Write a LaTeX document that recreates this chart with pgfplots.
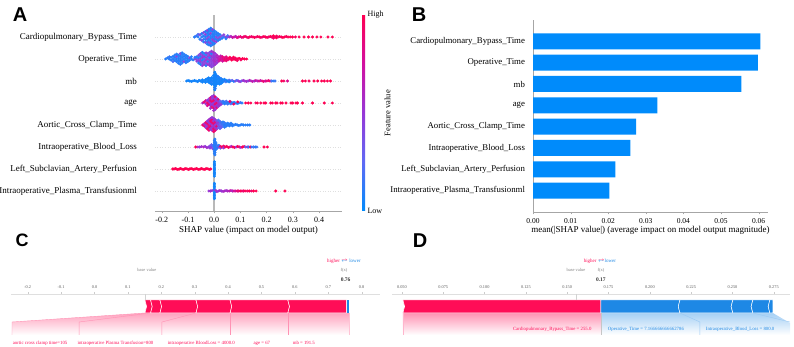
\documentclass[border=0pt]{standalone}
\usepackage{fontspec}
\setmainfont{Liberation Serif}
\newfontfamily\panelfont{Liberation Sans}
\usepackage{pgfplots}
\usepackage{pgfplotstable}
\pgfplotsset{compat=1.18}
\definecolor{shapred}{RGB}{255,13,87}
\definecolor{shapblue}{RGB}{30,136,229}
\definecolor{barblue}{RGB}{0,139,251}

% ---------- beeswarm data: x = SHAP value, d = vertical offset in the row, c = feature value (0 low, 1 high)
\pgfplotstableread[row sep=\\]{x d c\\
-0.075 0 .1\\ -0.068 .05 .15\\ -0.061 0 .1\\ -0.061 .12 .2\\ -0.054 -.1 .1\\ -0.054 .1 .4\\ -0.047 0 .1\\ -0.047 .15 .1\\ -0.047 -.15 .4\\
-0.040 .05 .1\\ -0.040 -.1 .15\\ -0.040 .2 .4\\ -0.040 -.22 .1\\ -0.033 0 .1\\ -0.033 .12 .45\\ -0.033 -.12 .1\\ -0.033 .25 .1\\ -0.033 -.25 .4\\
-0.026 .05 .1\\ -0.026 -.07 .4\\ -0.026 .18 .1\\ -0.026 -.2 .1\\ -0.026 .3 .45\\ -0.026 -.32 .1\\ -0.020 0 .4\\ -0.020 .12 .1\\ -0.020 -.12 .1\\
-0.020 .24 .1\\ -0.020 -.24 .4\\ -0.020 .35 .1\\ -0.020 -.36 .1\\ -0.013 .05 .1\\ -0.013 -.06 .1\\ -0.013 .17 .45\\ -0.013 -.18 .1\\ -0.013 .29 .1\\
-0.013 -.3 .4\\ -0.013 .4 .1\\ -0.013 -.4 .1\\ -0.006 0 .1\\ -0.006 .12 .1\\ -0.006 -.12 .45\\ -0.006 .24 .1\\ -0.006 -.24 .1\\ -0.006 .34 .4\\
-0.006 -.35 .1\\ 0.001 .05 .1\\ 0.001 -.07 .1\\ 0.001 .17 .1\\ 0.001 -.19 .45\\ 0.001 .28 .1\\ 0.001 -.3 .1\\ 0.008 0 .4\\ 0.008 .12 .1\\
0.008 -.12 .1\\ 0.008 .22 .1\\ 0.008 -.22 .45\\ 0.015 .06 .1\\ 0.015 -.06 .4\\ 0.015 .16 .1\\ 0.015 -.16 .1\\ 0.022 0 .45\\ 0.022 .11 .1\\
0.022 -.11 .1\\ 0.030 .05 .4\\ 0.030 -.06 .1\\ 0.037 0 .1\\ 0.037 .1 .45\\ 0.045 0 .5\\ 0.045 -.08 .1\\ 0.052 0 .4\\ 0.052 .06 .2\\
0.058 0 .55\\ 0.064 .03 .6\\ 0.07 -.02 .7\\ 0.076 0 .75\\ 0.082 .03 .65\\ 0.088 -.03 .85\\ 0.094 0 .8\\ 0.1 .02 .9\\ 0.106 -.02 .85\\
0.112 0 .95\\ 0.118 .03 .9\\ 0.124 0 .95\\ 0.13 -.03 .9\\ 0.136 0 1\\ 0.142 .02 .9\\ 0.148 0 .95\\ 0.154 -.02 1\\ 0.16 0 .9\\ 0.166 .02 .95\\
0.172 0 1\\ 0.178 -.02 .95\\ 0.184 0 .9\\ 0.19 .02 1\\ 0.196 0 .95\\ 0.202 -.02 1\\ 0.208 0 .9\\ 0.214 .02 1\\ 0.22 0 .95\\ 0.226 .05 1\\
0.226 -.05 .9\\ 0.232 0 1\\ 0.238 .04 .95\\ 0.238 -.04 1\\ 0.244 0 .9\\ 0.25 .02 1\\ 0.256 0 .95\\ 0.262 -.02 1\\ 0.268 0 1\\ 0.275 .02 .95\\
0.282 0 1\\ 0.29 0 1\\ 0.299 0 1\\ 0.31 0 .95\\ 0.324 0 1\\ 0.343 0 1\\ 0.36 0 1\\ 0.375 0 1\\ 0.392 0 1\\ 0.407 0 1\\ 0.434 0 1\\ 0.451 0 1\\
}\tcardio

\pgfplotstableread[row sep=\\]{x d c\\
-0.185 0 .1\\ -0.178 .05 .1\\ -0.171 0 .1\\ -0.171 .1 .15\\ -0.164 -.05 .1\\ -0.164 .08 .1\\ -0.157 0 .1\\ -0.157 .12 .1\\ -0.157 -.12 .2\\
-0.150 .06 .1\\ -0.150 -.06 .1\\ -0.150 .18 .1\\ -0.143 0 .1\\ -0.143 .12 .4\\ -0.143 -.12 .1\\ -0.143 .22 .1\\ -0.136 .05 .1\\ -0.136 -.07 .1\\
-0.136 .17 .1\\ -0.136 -.19 .1\\ -0.129 0 .1\\ -0.129 .12 .1\\ -0.129 -.12 .1\\ -0.129 .24 .4\\ -0.129 -.24 .1\\ -0.122 .06 .1\\ -0.122 -.06 .1\\
-0.122 .18 .1\\ -0.122 -.18 .1\\ -0.122 .28 .1\\ -0.115 0 .1\\ -0.115 .12 .1\\ -0.115 -.12 .45\\ -0.115 .22 .1\\ -0.108 .05 .1\\ -0.108 -.07 .1\\
-0.108 .17 .1\\ -0.108 -.17 .1\\ -0.101 0 .1\\ -0.101 .12 .1\\ -0.101 -.12 .1\\ -0.094 .05 .4\\ -0.094 -.06 .1\\ -0.087 0 .1\\ -0.087 .1 .1\\
-0.080 -.04 .1\\ -0.073 0 .45\\ -0.073 .08 .1\\
-0.066 0 .4\\ -0.066 .1 .1\\ -0.066 -.1 .45\\ -0.059 .05 .1\\ -0.059 -.07 .45\\ -0.059 .17 .4\\ -0.059 -.18 .1\\ -0.052 0 .45\\ -0.052 .12 .1\\
-0.052 -.12 .5\\ -0.052 .24 .45\\ -0.052 -.24 .1\\ -0.045 .06 .5\\ -0.045 -.06 .1\\ -0.045 .18 .45\\ -0.045 -.18 .4\\ -0.045 .3 .1\\ -0.045 -.3 .45\\
-0.038 0 .1\\ -0.038 .12 .5\\ -0.038 -.12 .45\\ -0.038 .24 .1\\ -0.038 -.24 .5\\ -0.031 .06 .45\\ -0.031 -.06 .5\\ -0.031 .18 .1\\ -0.031 -.18 .45\\
-0.031 .28 .5\\ -0.031 -.3 .1\\ -0.024 0 .5\\ -0.024 .12 .45\\ -0.024 -.12 .1\\ -0.024 .24 .45\\ -0.024 -.24 .5\\ -0.017 .06 .1\\ -0.017 -.06 .45\\
-0.017 .18 .5\\ -0.017 -.18 .45\\ -0.017 .3 .4\\ -0.017 -.3 .5\\ -0.010 0 .45\\ -0.010 .12 .5\\ -0.010 -.12 .45\\ -0.010 .24 .1\\ -0.010 -.24 .45\\
-0.010 .35 .5\\ -0.010 -.36 .45\\ -0.003 .06 .5\\ -0.003 -.06 .55\\ -0.003 .18 .45\\ -0.003 -.18 .5\\ -0.003 .3 .55\\ -0.003 -.3 .45\\ 0.004 0 .55\\
0.004 .12 .5\\ 0.004 -.12 .6\\ 0.004 .24 .5\\ 0.004 -.24 .55\\ 0.011 .06 .6\\ 0.011 -.06 .55\\ 0.011 .17 .6\\ 0.011 -.17 .5\\
0.018 0 .7\\ 0.018 .1 .65\\ 0.018 -.1 .7\\ 0.025 .05 .75\\ 0.025 -.05 .8\\ 0.025 .14 .7\\ 0.032 0 .8\\ 0.032 .1 .85\\ 0.032 -.1 .75\\ 0.039 .05 .85\\
0.039 -.05 .9\\ 0.046 0 .9\\ 0.046 .1 .85\\ 0.046 -.08 .9\\ 0.053 .04 .95\\ 0.053 -.04 .9\\ 0.06 0 .95\\ 0.06 .08 1\\ 0.067 .03 .9\\ 0.067 -.05 1\\
0.074 0 .95\\ 0.074 .08 1\\ 0.081 -.03 1\\ 0.081 .04 .95\\ 0.088 0 1\\ 0.088 -.07 .95\\ 0.095 .03 1\\ 0.102 0 1\\ 0.102 -.04 .95\\ 0.109 .02 1\\
0.116 0 1\\ 0.124 0 1\\
}\toper

\pgfplotstableread[row sep=\\]{x d c\\
-0.105 0 .05\\ -0.099 .02 .05\\ -0.093 0 .05\\ -0.087 -.02 .05\\ -0.081 0 .05\\ -0.075 .02 .05\\ -0.069 0 .05\\ -0.063 -.03 .05\\ -0.057 .03 .05\\
-0.051 0 .05\\ -0.045 .05 .05\\ -0.045 -.05 .05\\ -0.039 0 .05\\ -0.033 .06 .05\\ -0.033 -.06 .05\\ -0.027 0 .05\\ -0.027 .1 .05\\ -0.021 .05 .05\\
-0.021 -.05 .05\\ -0.021 .14 .05\\ -0.015 0 .05\\ -0.015 .1 .05\\ -0.015 -.1 .05\\ -0.009 .05 .05\\ -0.009 -.05 .1\\ -0.009 .15 .05\\ -0.009 -.15 .05\\
-0.003 0 .05\\ -0.003 .12 .05\\ -0.003 -.12 .05\\ -0.003 .24 .05\\
0.002 0 .05\\ 0.002 .1 .05\\ 0.002 -.1 .05\\ 0.002 .2 .05\\ 0.002 -.2 .05\\ 0.002 .3 .05\\ 0.002 -.3 .05\\ 0.002 .4 .05\\ 0.002 -.4 .05\\
0.004 .05 .05\\ 0.004 -.05 .05\\ 0.004 .15 .05\\ 0.004 -.15 .05\\ 0.004 .25 .05\\ 0.004 -.25 .05\\ 0.004 .35 .05\\ 0.004 -.35 .1\\
0.009 .05 .05\\ 0.009 -.05 .05\\ 0.009 .15 .05\\ 0.009 -.15 .05\\ 0.009 .25 .05\\ 0.015 0 .05\\ 0.015 .1 .05\\ 0.015 -.1 .05\\ 0.015 .2 .1\\
0.021 .05 .05\\ 0.021 -.05 .05\\ 0.021 .14 .05\\ 0.021 -.14 .05\\ 0.027 0 .05\\ 0.027 .1 .1\\ 0.027 -.1 .05\\ 0.033 .05 .05\\ 0.033 -.05 .05\\
0.039 0 .1\\ 0.039 .08 .05\\ 0.045 .04 .05\\ 0.045 -.04 .15\\ 0.051 0 .05\\ 0.057 .04 .2\\ 0.057 -.04 .05\\ 0.063 0 .1\\ 0.069 .03 .3\\
0.075 -.02 .1\\ 0.081 0 .4\\ 0.087 .03 .2\\ 0.093 0 .45\\ 0.099 -.03 .5\\ 0.105 0 .3\\ 0.111 .02 .55\\ 0.117 0 .5\\ 0.123 -.02 .6\\ 0.129 0 .45\\
0.135 .03 .65\\ 0.141 0 .6\\ 0.147 -.02 .7\\ 0.153 0 .55\\ 0.159 .02 .75\\ 0.165 0 .6\\ 0.171 0 .8\\ 0.177 .02 .7\\ 0.183 0 .85\\ 0.189 -.02 .9\\
0.195 0 .75\\ 0.201 0 .9\\ 0.207 .02 .85\\ 0.213 0 .95\\ 0.219 0 .2\\ 0.225 0 .1\\ 0.232 0 .15\\
0.258 0 1\\ 0.266 0 .95\\ 0.28 0 .8\\ 0.337 0 1\\ 0.348 0 1\\ 0.362 0 .95\\ 0.381 0 1\\ 0.395 0 1\\ 0.41 0 1\\ 0.42 0 1\\ 0.432 0 1\\ 0.444 0 1\\
}\tmb

\pgfplotstableread[row sep=\\]{x d c\\
-0.044 0 .6\\ -0.038 .04 .9\\ -0.032 -.04 .5\\ -0.032 .1 .8\\ -0.026 0 .9\\ -0.026 .12 .5\\ -0.026 -.12 .8\\ -0.02 .06 .6\\ -0.02 -.06 .9\\
-0.02 .18 .5\\ -0.014 0 .55\\ -0.014 .12 .9\\ -0.014 -.12 .5\\ -0.014 .24 .8\\ -0.014 -.24 .55\\ -0.008 .06 .9\\ -0.008 -.06 .5\\ -0.008 .18 .55\\
-0.008 -.18 .9\\ -0.008 .3 .5\\ -0.002 0 .5\\ -0.002 .12 .9\\ -0.002 -.12 .55\\ -0.002 .24 .5\\ -0.002 -.24 .85\\ -0.002 .34 .5\\ -0.002 -.34 .55\\
0.004 .06 .55\\ 0.004 -.06 .9\\ 0.004 .18 .5\\ 0.004 -.18 .55\\ 0.004 .28 .9\\ 0.004 -.3 .5\\ 0.010 0 .9\\ 0.010 .12 .5\\ 0.010 -.12 .55\\
0.010 .22 .5\\ 0.010 -.22 .85\\ 0.016 .06 .5\\ 0.016 -.06 .55\\ 0.016 .16 .9\\ 0.016 -.16 .5\\ 0.022 0 .5\\ 0.022 .1 .3\\ 0.022 -.1 .55\\
0.028 .05 .2\\ 0.028 -.05 .5\\
0.034 0 .1\\ 0.034 .08 .15\\ 0.040 .04 .1\\ 0.040 -.04 .1\\ 0.046 0 .1\\ 0.046 .08 .2\\ 0.052 .03 .1\\ 0.052 -.05 .15\\ 0.058 0 .1\\
0.064 .04 .1\\ 0.064 -.04 .2\\ 0.07 0 .1\\ 0.076 .03 .1\\ 0.082 0 .15\\ 0.088 -.02 .1\\ 0.094 0 .1\\ 0.1 .02 .2\\ 0.106 0 .1\\
0.06 .07 .9\\ 0.075 -.05 .95\\ 0.09 .05 1\\ 0.12 0 1\\ 0.13 0 1\\ 0.14 0 1\\ 0.159 0 .95\\ 0.165 0 1\\ 0.178 0 1\\ 0.19 0 1\\ 0.197 0 1\\
0.216 0 1\\ 0.222 0 1\\ 0.235 0 1\\ 0.24 0 1\\ 0.254 0 1\\ 0.26 0 1\\ 0.274 0 1\\ 0.293 0 1\\ 0.3 0 1\\ 0.312 0 1\\ 0.318 0 1\\ 0.337 0 1\\
0.375 0 1\\ 0.42 0 1\\ 0.451 0 1\\
}\tage

\pgfplotstableread[row sep=\\]{x d c\\
-0.044 0 .9\\ -0.038 .05 .6\\ -0.038 -.05 .9\\ -0.032 0 .55\\ -0.032 .12 .9\\ -0.032 -.12 .5\\ -0.026 .06 .9\\ -0.026 -.06 .55\\ -0.026 .18 .5\\
-0.026 -.18 .9\\ -0.02 0 .9\\ -0.02 .12 .5\\ -0.02 -.12 .85\\ -0.02 .24 .55\\ -0.02 -.24 .9\\ -0.014 .06 .5\\ -0.014 -.06 .9\\ -0.014 .18 .9\\
-0.014 -.18 .5\\ -0.014 .3 .55\\ -0.008 0 .55\\ -0.008 .12 .9\\ -0.008 -.12 .5\\ -0.008 .24 .9\\ -0.008 -.24 .55\\ -0.008 .34 .5\\ -0.002 .06 .9\\
-0.002 -.06 .55\\ -0.002 .18 .5\\ -0.002 -.18 .9\\ -0.002 .3 .5\\ -0.002 -.3 .9\\ 0.004 0 .5\\ 0.004 .12 .85\\ 0.004 -.12 .55\\ 0.004 .24 .5\\
0.004 -.24 .9\\ 0.010 .06 .5\\ 0.010 -.06 .9\\ 0.010 .18 .4\\ 0.010 -.18 .55\\ 0.016 0 .4\\ 0.016 .12 .5\\ 0.016 -.12 .3\\ 0.016 .22 .2\\
0.022 .06 .3\\ 0.022 -.06 .4\\ 0.022 .16 .2\\ 0.022 -.16 .3\\ 0.028 0 .2\\ 0.028 .1 .15\\ 0.028 -.1 .3\\ 0.034 .05 .15\\ 0.034 -.05 .2\\
0.034 .14 .1\\ 0.040 0 .1\\ 0.040 .1 .15\\ 0.040 -.1 .1\\ 0.046 .05 .1\\ 0.046 -.05 .1\\ 0.052 0 .1\\ 0.052 .08 .1\\ 0.058 .04 .1\\
0.058 -.04 .1\\ 0.064 0 .1\\ 0.064 .08 .1\\ 0.07 .03 .1\\ 0.07 -.04 .1\\ 0.076 0 .1\\ 0.082 .03 .1\\ 0.088 0 .1\\ 0.094 -.02 .1\\ 0.1 0 .1\\
0.106 .02 .1\\ 0.112 0 .1\\ 0.12 0 .1\\ 0.128 0 .1\\ 0.136 0 .1\\
}\taortic

\pgfplotstableread[row sep=\\]{x d c\\
-0.07 0 1\\ -0.062 0 .6\\ -0.055 0 .5\\ -0.048 .02 .55\\ -0.04 0 .6\\ -0.034 .03 .5\\ -0.028 -.03 .55\\ -0.022 0 .5\\ -0.016 .05 .4\\
-0.016 -.05 .5\\ -0.01 0 .45\\ -0.01 .1 .3\\ -0.005 .05 .2\\ -0.005 -.08 .4\\
0.001 0 .1\\ 0.001 .1 .1\\ 0.001 -.1 .1\\ 0.001 .2 .1\\ 0.001 -.2 .1\\ 0.001 .3 .1\\ 0.001 -.3 .1\\ 0.003 .05 .1\\ 0.003 -.05 .1\\ 0.003 .15 .1\\
0.003 -.15 .1\\ 0.003 .25 .1\\ 0.003 -.25 .1\\ 0.003 .36 .1\\ 0.003 -.36 .1\\ 0.007 0 .1\\ 0.007 .1 .1\\ 0.007 -.1 .1\\ 0.007 .18 .1\\
0.012 .05 .2\\ 0.012 -.05 .1\\ 0.018 0 .5\\ 0.018 .08 .1\\ 0.024 .03 .9\\ 0.024 -.05 .4\\ 0.03 0 1\\ 0.036 .04 .9\\ 0.036 -.04 .5\\ 0.042 0 1\\
0.048 .03 .95\\ 0.054 -.02 1\\ 0.06 0 .9\\ 0.066 .03 .6\\ 0.072 0 1\\ 0.078 -.02 .95\\ 0.084 0 .5\\ 0.09 .02 1\\ 0.096 0 .9\\ 0.102 -.02 .55\\
0.108 0 1\\ 0.114 .02 .95\\ 0.12 0 .2\\ 0.126 0 .5\\ 0.132 0 .1\\ 0.138 0 .95\\ 0.144 0 .1\\ 0.15 0 .2\\ 0.157 0 .1\\ 0.163 0 .15\\
0.19 0 1\\ 0.203 0 1\\
}\tblood

\pgfplotstableread[row sep=\\]{x d c\\
-0.158 0 1\\ -0.153 0 1\\ -0.148 .02 1\\ -0.143 0 1\\ -0.138 -.02 1\\ -0.133 0 1\\ -0.128 .02 1\\ -0.123 0 1\\ -0.118 -.02 1\\ -0.113 0 1\\
-0.108 .02 1\\ -0.103 0 1\\ -0.098 -.02 1\\ -0.093 0 1\\ -0.088 .02 1\\ -0.083 0 1\\ -0.078 -.02 1\\ -0.073 0 1\\ -0.068 .02 1\\ -0.063 0 1\\
-0.058 -.02 1\\ -0.053 0 1\\ -0.048 .02 1\\ -0.043 0 1\\ -0.038 -.02 1\\ -0.033 0 1\\ -0.028 .02 1\\ -0.023 0 1\\ -0.018 -.02 1\\ -0.013 0 1\\
0.001 -.33 .05\\ 0.001 -.27 .05\\ 0.001 -.21 .05\\ 0.001 -.15 .05\\ 0.001 -.09 .05\\ 0.001 -.03 .05\\ 0.001 .03 .05\\ 0.001 .09 .05\\
0.001 .15 .05\\ 0.001 .21 .05\\ 0.001 .27 .05\\ 0.001 .33 .05\\
}\tleft

\pgfplotstableread[row sep=\\]{x d c\\
0.001 -.35 .05\\ 0.001 -.28 .05\\ 0.001 -.21 .05\\ 0.001 -.14 .05\\ 0.001 -.07 .05\\ 0.001 0 .05\\ 0.001 .07 .05\\ 0.001 .14 .05\\
0.001 .21 .05\\ 0.001 .28 .05\\ 0.001 .35 .05\\
-0.02 0 .5\\ -0.014 0 .55\\ -0.008 .02 .5\\ 0.006 .03 .5\\ 0.01 -.03 .55\\ 0.016 0 .5\\ 0.022 .02 .6\\ 0.028 0 .5\\ 0.034 -.02 .55\\
0.04 0 .6\\ 0.046 .02 .55\\ 0.052 0 .6\\ 0.058 0 .65\\ 0.064 .02 .7\\ 0.07 0 .6\\ 0.076 0 .8\\ 0.082 0 .75\\ 0.088 0 .9\\ 0.094 0 .85\\
0.1 0 1\\ 0.106 0 .95\\ 0.112 0 .9\\ 0.118 0 1\\ 0.126 0 .95\\ 0.134 0 1\\ 0.142 0 .9\\ 0.15 0 1\\ 0.16 0 1\\ 0.235 0 1\\ 0.27 0 1\\
}\tplasma

\pgfplotsset{
  bee/.style={scatter, only marks, mark=*, mark size=1.3pt,
    scatter/use mapped color={draw=mapped color, fill=mapped color},
    point meta=\thisrow{c}},
  fnum/.style={/pgf/number format/fixed, /pgf/number format/fixed zerofill,
    /pgf/number format/precision=#1, /pgf/number format/assume math mode=true},
}

\begin{document}
\begin{tikzpicture}
\path[use as bounding box] (0,0) rectangle (794pt,347pt);

% ---------------- Panel A
\node[font=\panelfont\bfseries\fontsize{20}{20}\selectfont] at (20pt,332pt) {A};
\begin{axis}[
  at={(155pt,136pt)}, anchor=south west, scale only axis,
  width=187pt, height=196pt,
  xmin=-0.2256, xmax=0.4877, ymin=-0.909, ymax=8,
  axis lines*=left, y axis line style={draw=none},
  x axis line style={gray!70},
  ytick={0,...,7},
  yticklabels={Intraoperative\_Plasma\_Transfusionml, Left\_Subclavian\_Artery\_Perfusion, Intraoperative\_Blood\_Loss, Aortic\_Cross\_Clamp\_Time, age, mb, Operative\_Time, Cardiopulmonary\_Bypass\_Time},
  ytick style={draw=none},
  yticklabel style={font=\fontsize{9}{10}\selectfont, xshift=-12pt},
  ymajorgrids, major grid style={gray!25, dash pattern=on 1pt off 1.5pt},
  xtick={-0.2,-0.1,0,0.1,0.2,0.3,0.4}, scaled x ticks=false,
  xtick style={gray!70}, tick align=outside, major tick length=2.5pt,
  xticklabel style={font=\fontsize{8}{9}\selectfont, fnum=1},
  xlabel={SHAP value (impact on model output)},
  xlabel style={font=\fontsize{9}{10}\selectfont, at={(axis description cs:0.5,0)}, anchor=center, yshift=-19pt},
  colormap={shap}{rgb255=(0,139,251) rgb255=(95,105,245) rgb255=(150,55,215) rgb255=(210,15,160) rgb255=(255,0,82)},
  point meta min=0, point meta max=1,
  colorbar,
  colorbar style={at={(parent axis.north east)}, anchor=north west, xshift=11.5pt,
    width=3pt, ytick={0,1}, yticklabels={Low,High},
    yticklabel style={font=\fontsize{8}{9}\selectfont, xshift=-1pt},
    axis line style={draw=none}, major tick length=0pt,
    ylabel={Feature value},
    ylabel style={font=\fontsize{8.5}{9}\selectfont, at={(axis description cs:8.5,0.5)}, anchor=center}},
]
\addplot[gray!55, line width=1.3pt] coordinates {(0,-0.909) (0,8)};
\addplot[bee] table[x=x, y expr=\thisrow{d}+7] {\tcardio};
\addplot[bee] table[x=x, y expr=\thisrow{d}+6] {\toper};
\addplot[bee] table[x=x, y expr=\thisrow{d}+5] {\tmb};
\addplot[bee] table[x=x, y expr=\thisrow{d}+4] {\tage};
\addplot[bee] table[x=x, y expr=\thisrow{d}+3] {\taortic};
\addplot[bee] table[x=x, y expr=\thisrow{d}+2] {\tblood};
\addplot[bee] table[x=x, y expr=\thisrow{d}+1] {\tleft};
\addplot[bee] table[x=x, y expr=\thisrow{d}+0] {\tplasma};
\end{axis}

% ---------------- Panel B
\node[font=\panelfont\bfseries\fontsize{20}{20}\selectfont] at (419pt,332pt) {B};
\begin{axis}[
  at={(533pt,135pt)}, anchor=south west, scale only axis,
  width=235pt, height=192pt,
  xmin=0, xmax=0.0625, ymin=-1, ymax=8,
  axis lines*=left, axis line style={gray!70},
  xbar, bar width=16pt,
  ytick={0,...,7},
  yticklabels={Intraoperative\_Plasma\_Transfusionml, Left\_Subclavian\_Artery\_Perfusion, Intraoperative\_Blood\_Loss, Aortic\_Cross\_Clamp\_Time, age, mb, Operative\_Time, Cardiopulmonary\_Bypass\_Time},
  ytick style={draw=none},
  yticklabel style={font=\fontsize{8.8}{10}\selectfont, xshift=-2pt},
  xtick={0,0.01,0.02,0.03,0.04,0.05,0.06}, scaled x ticks=false,
  xtick style={gray!70}, tick align=outside, major tick length=2.5pt,
  xticklabel style={font=\fontsize{7.5}{9}\selectfont, fnum=2},
  xlabel={mean(|SHAP value|) (average impact on model output magnitude)},
  xlabel style={font=\fontsize{9}{10}\selectfont, at={(axis description cs:0.5,0)}, anchor=center, yshift=-18pt},
]
\addplot[fill=barblue, draw=none] coordinates {(0.0605,7) (0.0598,6) (0.0554,5) (0.0331,4) (0.0274,3) (0.0259,2) (0.0219,1) (0.0203,0)};
\end{axis}

% ---------------- Panel C
\node[font=\panelfont\bfseries\fontsize{18}{18}\selectfont] at (22pt,107pt) {C};
\begin{axis}[
  at={(11pt,0pt)}, anchor=south west, scale only axis,
  width=369pt, height=53pt,
  xmin=-0.25, xmax=0.855, ymin=0, ymax=53, clip=false,
  axis x line*=top, axis y line*=left, y axis line style={draw=none}, ytick=\empty,
  x axis line style={gray!25, line width=0.8pt},
  xtick={-0.2,-0.1,0,0.1,0.2,0.3,0.4,0.5,0.6,0.7,0.8}, scaled x ticks=false,
  xtick style={gray!40}, tick align=outside, major tick length=1.5pt,
  xticklabel style={font=\fontsize{4.3}{5}\selectfont, text=black!65, fnum=1},
]
\addplot[draw=none, top color=shapred!38, bottom color=white] coordinates {(0.151,34) (0.762,34) (0.762,12) (-0.247,12) (-0.247,25)} -- cycle;
\addplot[fill=shapred, draw=white, line width=0.5pt] coordinates {(0.151,47) (0.168,47) (0.173,40.5) (0.168,34) (0.151,34) (0.156,40.5)} -- cycle;
\addplot[fill=shapred, draw=white, line width=0.5pt] coordinates {(0.168,47) (0.196,47) (0.201,40.5) (0.196,34) (0.168,34) (0.173,40.5)} -- cycle;
\addplot[fill=shapred, draw=white, line width=0.5pt] coordinates {(0.196,47) (0.304,47) (0.309,40.5) (0.304,34) (0.196,34) (0.201,40.5)} -- cycle;
\addplot[fill=shapred, draw=white, line width=0.5pt] coordinates {(0.304,47) (0.406,47) (0.411,40.5) (0.406,34) (0.304,34) (0.309,40.5)} -- cycle;
\addplot[fill=shapred, draw=white, line width=0.5pt] coordinates {(0.406,47) (0.579,47) (0.584,40.5) (0.579,34) (0.406,34) (0.411,40.5)} -- cycle;
\addplot[fill=shapred, draw=white, line width=0.5pt] coordinates {(0.579,47) (0.754,47) (0.754,34) (0.579,34) (0.584,40.5)} -- cycle;
\addplot[fill=shapblue, draw=none] coordinates {(0.755,47) (0.762,47) (0.762,34) (0.755,34)} -- cycle;
\addplot[shapred!45, line width=0.4pt] coordinates {(-0.247,12) (-0.247,25) (0.151,34)};
\addplot[shapred!45, line width=0.4pt] coordinates {(-0.046,12) (-0.046,25) (0.168,34)};
\addplot[shapred!45, line width=0.4pt] coordinates {(0.202,12) (0.202,25) (0.304,34)};
\addplot[shapred!45, line width=0.4pt] coordinates {(0.406,12) (0.406,34)};
\addplot[shapred!45, line width=0.4pt] coordinates {(0.579,12) (0.579,34)};
\addplot[shapred!25, line width=0.4pt] coordinates {(0.762,12) (0.762,34)};
\addplot[gray!35, line width=0.4pt] coordinates {(0.151,53) (0.151,47)};
\begin{scope}[every node/.style={font=\fontsize{4.8}{5}\selectfont, text=shapred}]
\node at (axis cs:-0.163,4) {aortic cross clamp time=105};
\node at (axis cs:0.063,4) {intraoperative Plasma Transfusion=800};
\node at (axis cs:0.320,4) {intraoperative BloodLoss = 4000.0};
\node at (axis cs:0.501,4) {age = 67};
\node at (axis cs:0.627,4) {mb = 191.5};
\end{scope}
\node[font=\fontsize{5}{6}\selectfont] at (axis cs:0.747,86) {\textcolor{shapred}{higher} \rlap{\raisebox{1pt}{\color{shapred}$\scriptscriptstyle\rightarrow$}}\raisebox{-0.8pt}{\color{shapblue}$\scriptscriptstyle\leftarrow$} \textcolor{shapblue}{lower}};
\node[font=\fontsize{4.5}{5}\selectfont, text=black!50] at (axis cs:0.157,77) {base value};
\node[font=\fontsize{4.5}{5}\selectfont, text=black!50] at (axis cs:0.747,77) {f(x)};
\node[font=\bfseries\fontsize{5.5}{6}\selectfont, text=black!80] at (axis cs:0.752,67) {0.76};
\end{axis}

% ---------------- Panel D
\node[font=\panelfont\bfseries\fontsize{20}{20}\selectfont] at (420pt,106pt) {D};
\begin{axis}[
  at={(392pt,0pt)}, anchor=south west, scale only axis,
  width=398pt, height=53pt,
  xmin=0.044, xmax=0.2848, ymin=0, ymax=53, clip=false,
  axis x line*=top, axis y line*=left, y axis line style={draw=none}, ytick=\empty,
  x axis line style={gray!25, line width=0.8pt},
  xtick={0.05,0.075,0.1,0.125,0.15,0.175,0.2,0.225,0.25,0.275}, scaled x ticks=false,
  xtick style={gray!40}, tick align=outside, major tick length=1.5pt,
  xticklabel style={font=\fontsize{4.3}{5}\selectfont, text=black!65, fnum=3},
]
\addplot[draw=none, top color=shapred!45, bottom color=white] coordinates {(0.0506,34) (0.1704,34) (0.1704,12) (0.0506,12)} -- cycle;
\addplot[draw=none, top color=shapblue!40, bottom color=white] coordinates {(0.1704,34) (0.2744,34) (0.2848,24) (0.2848,12) (0.1704,12)} -- cycle;
\addplot[fill=shapred, draw=white, line width=0.5pt] coordinates {(0.0506,47) (0.1704,47) (0.1704,34) (0.0506,34) (0.0516,40.5)} -- cycle;
\addplot[fill=shapblue, draw=white, line width=0.5pt] coordinates {(0.1704,47) (0.2182,47) (0.2172,40.5) (0.2182,34) (0.1704,34)} -- cycle;
\addplot[fill=shapblue, draw=white, line width=0.5pt] coordinates {(0.2182,47) (0.2502,47) (0.2492,40.5) (0.2502,34) (0.2182,34) (0.2172,40.5)} -- cycle;
\addplot[fill=shapblue, draw=white, line width=0.5pt] coordinates {(0.2502,47) (0.2623,47) (0.2613,40.5) (0.2623,34) (0.2502,34) (0.2492,40.5)} -- cycle;
\addplot[fill=shapblue, draw=white, line width=0.5pt] coordinates {(0.2623,47) (0.2726,47) (0.2716,40.5) (0.2726,34) (0.2623,34) (0.2613,40.5)} -- cycle;
\addplot[fill=shapblue, draw=white, line width=0.5pt] coordinates {(0.2726,47) (0.2744,47) (0.2744,34) (0.2726,34) (0.2716,40.5)} -- cycle;
\addplot[shapred!30, line width=0.4pt] coordinates {(0.0506,12) (0.0506,34)};
\addplot[gray!45, line width=0.4pt] coordinates {(0.1704,12) (0.1704,34)};
\addplot[shapblue!45, line width=0.4pt] coordinates {(0.2182,34) (0.2303,25) (0.2303,12)};
\addplot[shapblue!45, line width=0.4pt] coordinates {(0.2623,34) (0.2848,25)};
\addplot[gray!35, line width=0.4pt] coordinates {(0.1553,53) (0.1553,47)};
\node[font=\fontsize{4.8}{5}\selectfont, text=shapred, anchor=east] at (axis cs:0.1668,18) {Cardiopulmonary\_Bypass\_Time = 255.0};
\node[font=\fontsize{4.8}{5}\selectfont, text=shapblue, anchor=west] at (axis cs:0.1725,18) {Operative\_Time = 7.166666666662786};
\node[font=\fontsize{4.8}{5}\selectfont, text=shapblue, anchor=west] at (axis cs:0.2318,18) {Intraoperative\_Blood\_Loss = 800.0};
\node[font=\fontsize{5}{6}\selectfont] at (axis cs:0.1698,86) {\textcolor{shapred}{higher} \rlap{\raisebox{1pt}{\color{shapred}$\scriptscriptstyle\rightarrow$}}\raisebox{-0.8pt}{\color{shapblue}$\scriptscriptstyle\leftarrow$}\textcolor{shapblue}{lower}};
\node[font=\fontsize{4.5}{5}\selectfont, text=black!50] at (axis cs:0.1553,77) {base value};
\node[font=\fontsize{4.5}{5}\selectfont, text=black!50] at (axis cs:0.1704,77) {f(x)};
\node[font=\bfseries\fontsize{5.5}{6}\selectfont, text=black!80] at (axis cs:0.1704,67) {0.17};
\end{axis}
\end{tikzpicture}
\end{document}
